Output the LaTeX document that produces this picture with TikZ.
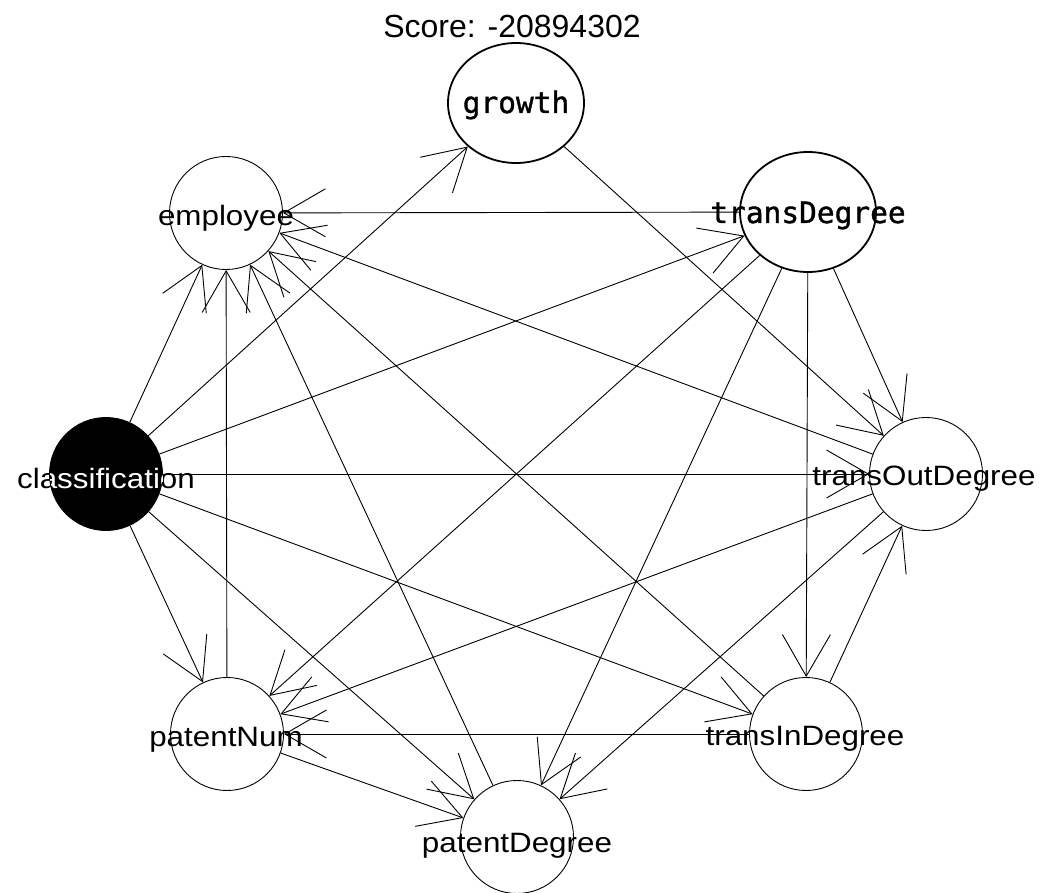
\documentclass[tikz,border=0pt]{standalone}
\usepackage{fontspec}
\setmainfont{Liberation Sans}
\newfontfamily\lblfont[FakeStretch=1.12]{Liberation Sans}
\newfontfamily\hifont[FakeBold=1.2]{DejaVu Sans Mono}
\usetikzlibrary{arrows.meta,shapes.geometric}
\begin{document}
\begin{tikzpicture}[x=1pt,y=-1pt,
  vnode/.style={circle,draw,line width=0.9pt,minimum size=113pt,inner sep=0pt},
  hnode/.style={ellipse,draw,line width=1.8pt,minimum width=136pt,minimum height=120pt,inner sep=0pt},
  lbl/.style={anchor=base,inner sep=0pt,font=\lblfont\fontsize{28pt}{28pt}\selectfont},
  hlbl/.style={anchor=base,inner sep=0pt,font=\hifont\fontsize{29.5pt}{29.5pt}\selectfont},
  arr/.style={line width=0.9pt,-{Straight Barb[length=41.6pt,width=48pt]}}]
\useasboundingbox[fill=white] (0,0) rectangle (1039,893);

% nodes
\node[hnode] (growth) at (516,103) {};
\node[hnode] (transDegree) at (808,212) {};
\node[vnode] (transOutDegree) at (926,474) {};
\node[vnode] (transInDegree) at (806,734) {};
\node[vnode] (patentDegree) at (517,837) {};
\node[vnode] (patentNum) at (227,734) {};
\node[vnode,fill=black] (classification) at (106,474) {};
\node[vnode] (employee) at (226,213) {};

% edges
\draw[arr] (classification) -- (employee);
\draw[arr] (classification) -- (growth);
\draw[arr] (classification) -- (transDegree);
\draw[arr] (classification) -- (transOutDegree);
\draw[arr] (classification) -- (transInDegree);
\draw[arr] (classification) -- (patentDegree);
\draw[arr] (classification) -- (patentNum);
\draw[arr] (patentNum) -- (employee);
\draw[arr] (patentDegree) -- (employee);
\draw[arr] (transInDegree) -- (employee);
\draw[arr] (transOutDegree) -- (employee);
\draw[arr] (transDegree) -- (employee);
\draw[arr] (growth) -- (transOutDegree);
\draw[arr] (transDegree) -- (transOutDegree);
\draw[arr] (transDegree) -- (transInDegree);
\draw[arr] (transDegree) -- (patentNum);
\draw[arr] (transDegree) -- (patentDegree);
\draw[arr] (transOutDegree) -- (patentNum);
\draw[arr] (transOutDegree) -- (patentDegree);
\draw[arr] (transInDegree) -- (transOutDegree);
\draw[arr] (transInDegree) -- (patentNum);
\draw[arr] (patentNum) -- (patentDegree);

% labels
\node[anchor=base,inner sep=0pt,font=\fontsize{32pt}{32pt}\selectfont] (score) at (512,38) {Score: -20894302};
\node[hlbl] (growth-t) at (516,113) {growth};
\node[hlbl] (transDegree-t) at (808,223) {transDegree};
\node[lbl] (employee-t) at (226,226) {employee};
\node[lbl] (transOutDegree-t) at (924,485) {transOutDegree};
\node[lbl] (transInDegree-t) at (805,745) {transInDegree};
\node[lbl] (patentDegree-t) at (517,852) {patentDegree};
\node[lbl] (patentNum-t) at (226,746) {patentNum};
\node[lbl] (classification-t) at (106,488) {classification};
\begin{scope}
  \clip (classification.center) circle [radius=56.5pt];
  \node[lbl,text=white] (classification-w) at (106,488) {classification};
\end{scope}
\end{tikzpicture}
\end{document}
